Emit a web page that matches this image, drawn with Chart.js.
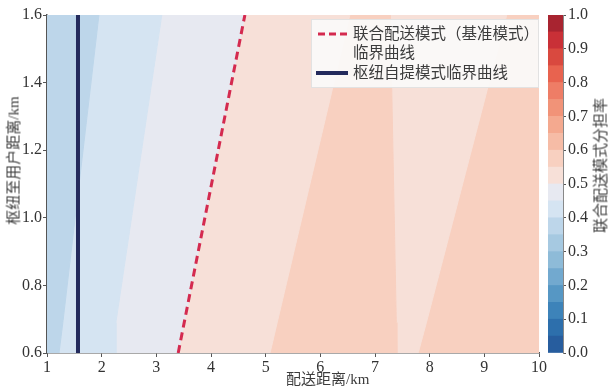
<!DOCTYPE html>
<html>
<head>
<meta charset="utf-8">
<script src="https://cdn.jsdelivr.net/npm/chart.js@4"></script>
<style>
  body { margin: 0; background: #fff; }
  #wrap { position: relative; width: 611px; height: 392px; font-family: 'Liberation Serif', 'Noto Sans CJK SC', serif; color: #3c3c3c; }
  #wrap canvas { position: absolute; left: 0; top: 0; }
  .lbl { position: absolute; white-space: nowrap; font-size: 15px; line-height: 1; }
  #legend { position: absolute; left: 311px; top: 19px; width: 226px; height: 67px; background: rgba(250,250,250,0.92); border: 1px solid #e2e2e2; }
  #legend .row { position: absolute; left: 41px; font-size: 15.5px; line-height: 1; white-space: nowrap; }
  #legend svg { position: absolute; left: 4px; }
</style>
</head>
<body>
<div id="wrap">
  <canvas id="myChart" width="611" height="392"></canvas>
  <canvas id="barChart" width="611" height="392"></canvas>
  <div class="lbl" id="ytitle" style="left:-52px; top:153px; transform: rotate(-90deg); width:132px; text-align:center;">枢纽至用户距离/km</div>
  <div class="lbl" style="left:286px; top:372px;">配送距离/km</div>
  <div class="lbl" id="cbtitle" style="left:529px; top:158px; transform: rotate(-90deg); width:144px; text-align:center;">联合配送模式分担率</div>
  <div id="legend">
    <svg width="32" height="60" style="top:4px">
      <line x1="2" y1="10" x2="32" y2="10" stroke="#d42a4f" stroke-width="3" stroke-dasharray="7,4"></line>
      <line x1="0" y1="49" x2="32" y2="49" stroke="#232a5c" stroke-width="4"></line>
    </svg>
    <div class="row" style="top:6px">联合配送模式（基准模式）</div>
    <div class="row" style="top:25px">临界曲线</div>
    <div class="row" style="top:45px">枢纽自提模式临界曲线</div>
  </div>
</div>
<script>
// axes
const xTicks = [1, 2, 3, 4, 5, 6, 7, 8, 9, 10];
const yTicks = [0.6, 0.8, 1.0, 1.2, 1.4, 1.6];
const cbTicks = [0, 0.1, 0.2, 0.3, 0.4, 0.5, 0.6, 0.7, 0.8, 0.9, 1.0];

// contour boundaries: x read at y = 0.6, 0.69, 1.6
const boundaryY = [0.6, 0.69, 1.6];
const bndLeft = [1, 1, 1];
const bndA = [1.22, 1.29, 1.95];
const bndB = [2.26, 2.26, 3.10];
const bndC = [3.40, 3.51, 4.62];
const bndD = [5.08, 5.21, 6.54];
const bndE = [7.40, 7.39, 7.28];
const bndF = [7.79, 7.94, 9.41];
const bndRight = [10, 10, 10];
const boundaries = [bndLeft, bndA, bndB, bndC, bndD, bndE, bndF, bndRight];

// share level of each band between two boundaries
const regionShare = [0.375, 0.425, 0.475, 0.525, 0.575, 0.525, 0.575];

// critical curves
const jointX = [3.40, 4.62];
const jointY = [0.6, 1.6];
const hubX = [1.567, 1.567];
const hubY = [0.6, 1.6];

// colour bar, 20 levels of 0.05
const cbColors = ['#275d9e', '#2d6fac', '#3d83b9', '#5697c4', '#72a9cf', '#8ebbd8', '#a6c9e1', '#bdd6ea', '#d5e4f2', '#e7e9f1',
                  '#f7e0d8', '#f8d0c0', '#f6bca6', '#f4a98f', '#f19378', '#ee7d66', '#e8634f', '#d9493f', '#c93037', '#a82430'];

let datasets = [];
for (let i = 0; i < regionShare.length; i++) {
    let left = boundaries[i], right = boundaries[i + 1];
    let pts = [];
    for (let k = 0; k < boundaryY.length; k++) pts.push({ x: left[k], y: boundaryY[k] });
    for (let k = boundaryY.length - 1; k >= 0; k--) pts.push({ x: right[k], y: boundaryY[k] });
    let col = cbColors[Math.floor(regionShare[i] / 0.05)];
    datasets.push({
        data: pts, showLine: true, fill: 'shape', backgroundColor: col,
        borderColor: col, borderWidth: 1, pointRadius: 0, order: 10
    });
}
datasets.push({
    data: jointX.map((x, i) => ({ x: x, y: jointY[i] })), showLine: true, fill: false,
    borderColor: '#d42a4f', borderWidth: 3, borderDash: [8, 5], pointRadius: 0, order: 2
});
datasets.push({
    data: hubX.map((x, i) => ({ x: x, y: hubY[i] })), showLine: true, fill: false,
    borderColor: '#232a5c', borderWidth: 4, pointRadius: 0, order: 1
});

const tickFont = { family: "'Liberation Serif', serif", size: 16 };
const axisCol = '#555';

var ctx = document.getElementById('myChart').getContext('2d');
var chart = new Chart(ctx, {
    type: 'scatter',
    data: { datasets: datasets },
    options: {
        responsive: false,
        animation: false,
        layout: { padding: { left: 0, right: 72, top: 15, bottom: 0 } },
        plugins: { legend: { display: false }, tooltip: { enabled: false } },
        scales: {
            x: {
                type: 'linear', min: 1, max: 10,
                afterBuildTicks: s => { s.ticks = xTicks.map(v => ({ value: v })); },
                afterFit: s => { s.height = 39; },
                ticks: { font: tickFont, color: '#333', padding: 1, maxRotation: 0, callback: v => v },
                grid: { drawOnChartArea: false, tickLength: 4, color: axisCol },
                border: { color: axisCol, width: 1.5 }
            },
            y: {
                type: 'linear', min: 0.6, max: 1.6,
                afterBuildTicks: s => { s.ticks = yTicks.map(v => ({ value: v })); },
                afterFit: s => { s.width = 47; },
                ticks: { font: tickFont, color: '#333', padding: 1, callback: v => Number(v).toFixed(1) },
                grid: { drawOnChartArea: false, tickLength: 4, color: axisCol },
                border: { color: axisCol, width: 1.5 }
            }
        }
    }
});

// colour bar
var ctx2 = document.getElementById('barChart').getContext('2d');
var bar = new Chart(ctx2, {
    type: 'bar',
    data: {
        labels: [''],
        datasets: cbColors.map(c => ({ data: [0.05], backgroundColor: c, borderWidth: 0, barPercentage: 1, categoryPercentage: 1 }))
    },
    options: {
        responsive: false,
        animation: false,
        layout: { padding: { left: 548, right: 0, top: 15, bottom: 39 } },
        plugins: { legend: { display: false }, tooltip: { enabled: false } },
        scales: {
            x: { display: false, stacked: true },
            y: {
                stacked: true, position: 'right', min: 0, max: 1,
                afterBuildTicks: s => { s.ticks = cbTicks.map(v => ({ value: v })); },
                afterFit: s => { s.width = 48; },
                ticks: { font: tickFont, color: '#333', padding: 2, callback: v => Number(v).toFixed(1) },
                grid: { drawOnChartArea: false, tickLength: 3, color: axisCol },
                border: { color: '#888', width: 1 }
            }
        }
    }
});
</script>
</body>
</html>
